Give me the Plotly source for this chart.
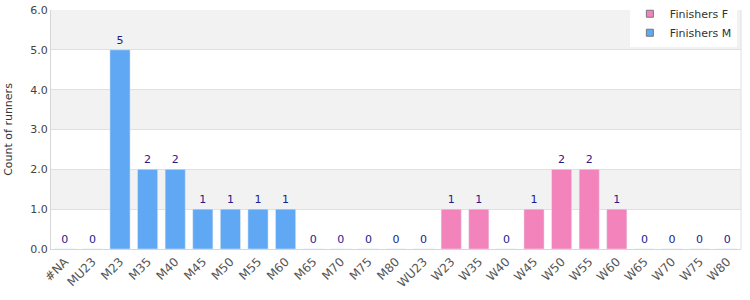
import plotly.graph_objects as go

categories = ["#NA", "MU23", "M23", "M35", "M40", "M45", "M50", "M55", "M60", "M65", "M70", "M75", "M80",
              "WU23", "W23", "W35", "W40", "W45", "W50", "W55", "W60", "W65", "W70", "W75", "W80"]
finishers_m = [0, 0, 5, 2, 2, 1, 1, 1, 1, 0, 0, 0, 0, None, None, None, None, None, None, None, None, None, None, None, None]
finishers_f = [None] * 13 + [0, 1, 1, 0, 1, 2, 2, 1, 0, 0, 0, 0]

color_f = "#f383bb"
color_m = "#60a8f4"
label_color = "#1c1c8e"

fig = go.Figure()
fig.add_trace(go.Bar(x=categories, y=finishers_f, name="Finishers F", marker=dict(color=color_f),
                     text=[("" if v is None else str(v)) for v in finishers_f], textposition="outside",
                     textfont=dict(color=label_color, size=11), cliponaxis=False, showlegend=False))
fig.add_trace(go.Bar(x=categories, y=finishers_m, name="Finishers M", marker=dict(color=color_m),
                     text=[("" if v is None else str(v)) for v in finishers_m], textposition="outside",
                     textfont=dict(color=label_color, size=11), cliponaxis=False, showlegend=False))
# legend entries with small bordered squares
for nm, c in [("Finishers F", color_f), ("Finishers M", color_m)]:
    fig.add_trace(go.Scatter(x=[None], y=[None], mode="markers", name=nm,
                             marker=dict(symbol="square", size=7, color=c, line=dict(color="#777", width=1))))

shapes = []
for k in range(1, 6, 2):
    shapes.append(dict(type="rect", xref="paper", yref="y", x0=0, x1=1, y0=k, y1=k + 1,
                       fillcolor="#f2f2f2", line=dict(width=0), layer="below"))
shapes.append(dict(type="line", xref="paper", yref="paper", x0=1, x1=1, y0=0, y1=1,
                   line=dict(color="#e0e0e0", width=1)))

fig.update_layout(
    width=750, height=300,
    margin=dict(l=51, r=9, t=10, b=51, autoexpand=False),
    paper_bgcolor="white", plot_bgcolor="white",
    font=dict(family="DejaVu Sans", size=11, color="#444"),
    barmode="overlay", bargap=0.27,
    shapes=shapes,
    showlegend=True,
    legend=dict(x=0.994, xanchor="right", y=1.045, yanchor="top", bgcolor="white",
                font=dict(size=11, color="#333"), traceorder="normal",
                itemwidth=30, tracegroupgap=0),
    xaxis=dict(type="category", tickangle=-45, showgrid=False, showline=True, linecolor="#d6d6d6",
               tickfont=dict(size=12, color="#555"), ticks=""),
    yaxis=dict(range=[0, 6], dtick=1, tickformat=".1f", showgrid=True, gridcolor="#e0e0e0",
               showline=True, linecolor="#d6d6d6", zeroline=False,
               title=dict(text="Count of runners", font=dict(size=11, color="#333")),
               tickfont=dict(size=11, color="#444")),
)

fig.write_html("out.html")
